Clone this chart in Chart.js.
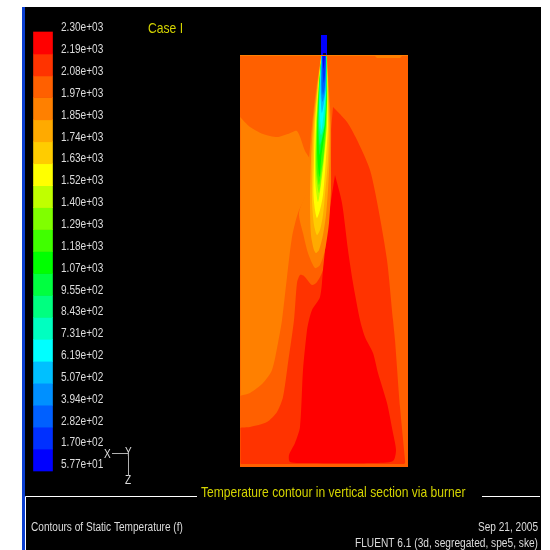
<!DOCTYPE html>
<html>
<head>
<meta charset="utf-8">
<title>Contours of Static Temperature</title>
<script src="https://cdn.jsdelivr.net/npm/chart.js@4"></script>
<style>
    html, body { margin: 0; padding: 0; background: #fff; overflow: hidden; }
    #frame { position: absolute; left: 22px; top: 7px; width: 516px; height: 543px; background: #000; border-left: 3px solid #0b3fd0; }
    #chart { position: absolute; left: 0; top: 0; }
</style>
</head>
<body>
<div id="frame"></div>
<canvas id="chart" width="550" height="550"></canvas>
<script>
// colour bar, bottom to top
const levels = [57.7, 169.8, 281.9, 394, 506.1, 618.2, 730.3, 842.4, 954.5, 1066.6, 1178.7, 1290.8, 1402.9, 1515, 1627.1, 1739.2, 1851.3, 1965, 2075.5, 2187.6, 2300];
const tickLabels = ['5.77e+01', '1.70e+02', '2.82e+02', '3.94e+02', '5.07e+02', '6.19e+02', '7.31e+02', '8.43e+02', '9.55e+02', '1.07e+03', '1.18e+03', '1.29e+03', '1.40e+03', '1.52e+03', '1.63e+03', '1.74e+03', '1.85e+03', '1.97e+03', '2.08e+03', '2.19e+03', '2.30e+03'];
const bandColors = ['#0000ff', '#0030ff', '#0060ff', '#0090ff', '#00c0ff', '#00ffff', '#00ffc0', '#00ff80', '#00ff40', '#00ff00', '#40ff00', '#80ff00', '#c0ff00', '#ffff00', '#ffcc00', '#ffaa00', '#ff8000', '#ff6000', '#ff3300', '#ff0000'];

// contour outlines, [across, depth below the roof]
const sectionT1970 = [[0, 0], [168, 0], [168, 412], [0, 412]];
const roofT1850 = [[0, 0], [168, 0], [168, 1], [0, 1]];
const roofPatchT1850 = [[135, 1], [162, 1], [160, 3], [137, 3]];
const burner = [[81, -20], [87, -20], [87, 0], [81, 0]];
const nozzleTip = [[83, -2], [86, -2], [86, 0], [83, 0]];
const leftT1850 = [[0, 62], [10, 72], [23, 79], [37, 82], [48, 79], [57, 76], [65, 96], [70, 105], [68, 135], [58, 158], [52, 182], [47, 222], [42, 265], [38, 288], [32, 315], [23, 328], [10, 338], [1, 340.5], [0.5, 341], [0.5, 338], [0.5, 66]];
const hotT2080 = [[93, 52], [107, 67], [118, 87], [130, 115], [138, 152], [147, 205], [153, 265], [155, 285], [160, 352], [165, 405], [165, 408], [164, 409], [160, 409], [5, 409], [1, 409], [0.5, 408], [0.5, 404], [0.5, 376], [0.5, 373], [3, 372.5], [10, 372], [27, 367], [37, 357], [43, 342], [48, 308], [54, 265], [57, 228], [60, 220], [64, 221], [72, 230], [77, 227], [83, 215], [87, 185], [90, 135], [91, 75]];
const coreT2190 = [[95, 120], [102, 148], [108, 195], [113, 228], [120, 265], [125, 282], [133, 298], [138, 318], [147, 348], [153, 378], [156, 395], [153, 406], [133, 408], [65, 408], [50, 407], [49, 400], [55, 388], [60, 372], [63, 315], [67, 275], [69, 265], [72, 255], [80, 242], [83, 215], [85, 195], [90, 152]];

// flame shells, outermost first
const jetT1850 = [[81, 1], [76, 35], [72, 70], [69, 105], [67, 135], [59, 158], [63, 178], [68, 198], [75, 213], [80, 210], [85, 195], [89, 168], [91, 135], [91, 105], [91, 70], [89, 35], [87, 1]];
const jetT1740 = [[81.2, 1], [76.8, 35], [73, 70], [71, 105], [70, 145], [71, 180], [74, 195], [76, 198], [79, 195], [83, 180], [86, 160], [88, 135], [89.5, 105], [90, 70], [88.5, 35], [86.8, 1]];
const jetT1630 = [[81.3, 1], [77.3, 35], [74, 70], [72.5, 105], [72, 145], [74, 170], [77, 180], [80, 175], [83, 160], [85, 140], [88, 105], [89, 70], [88, 35], [86.6, 1]];
const jetT1520 = [[81.4, 1], [77.8, 35], [75, 70], [74, 105], [73.5, 140], [75, 155], [77, 163], [80, 155], [83, 140], [85.5, 110], [88, 70], [87.8, 35], [86.5, 1]];
const jetT1400 = [[81.4, 1], [78.2, 35], [76, 70], [75, 105], [75.5, 130], [78, 147], [81, 130], [84, 105], [87, 70], [87.5, 35], [86.4, 1]];
const jetT1290 = [[81.5, 1], [78.5, 35], [76.5, 70], [75.8, 105], [76.3, 122], [79, 138], [81.5, 122], [83.5, 105], [85.5, 85], [86.5, 70], [87.2, 35], [86.4, 1]];
const jetT1180 = [[81.5, 1], [78.8, 35], [77, 70], [76.5, 105], [77, 118], [79, 130], [81, 118], [83, 105], [85, 85], [86, 70], [87, 35], [86.3, 1]];
const jetT1070 = [[81.5, 1], [79, 35], [77.5, 70], [77.3, 100], [79.5, 122], [81.5, 100], [83, 90], [85.5, 70], [86.8, 35], [86.3, 1]];
const jetT955 = [[81.5, 1], [79.2, 35], [78, 70], [79.5, 100], [82, 85], [85, 70], [86.6, 35], [86.2, 1]];
const jetT843 = [[81.5, 1], [79.4, 35], [78.5, 70], [80, 90], [84.5, 70], [86.4, 35], [86.2, 1]];
const jetT731 = [[81.5, 1], [79.6, 35], [79, 70], [81, 80], [84.2, 70], [86.2, 35], [86.2, 1]];
const jetT619 = [[81.5, 1], [80, 35], [79.8, 60], [81.5, 75], [83.5, 60], [86, 35], [86.2, 1]];
const jetT507 = [[81.6, 1], [80.5, 35], [81.8, 58], [84, 48], [85.6, 35], [86.1, 1]];
const jetT394 = [[81.8, 1], [81, 35], [82.5, 47], [85.3, 35], [86, 1]];
const jetT282 = [[82, 1], [81.8, 30], [83, 40], [85, 30], [86, 1]];
const jetT170 = [[82.3, 1], [83, 22], [83.8, 28], [85, 20], [85.8, 1]];
const jetT58 = [[82.5, 1], [83.5, 14], [85, 1]];

// painted back to front, third item is the curve tension
const layers = [
    [sectionT1970, '#ff6000', 0],
    [roofT1850, '#ff8000', 0],
    [roofPatchT1850, '#ff8000', 0],
    [leftT1850, '#ff8000', 0.25],
    [hotT2080, '#ff3300', 0.25],
    [coreT2190, '#ff0000', 0.25],
    [jetT1850, '#ff8000', 0.25],
    [jetT1740, '#ffaa00', 0.25],
    [jetT1630, '#ffcc00', 0.25],
    [jetT1520, '#ffff00', 0.25],
    [jetT1400, '#c0ff00', 0.25],
    [jetT1290, '#80ff00', 0.25],
    [jetT1180, '#40ff00', 0.25],
    [jetT1070, '#00ff00', 0.25],
    [jetT955, '#00ff40', 0.25],
    [jetT843, '#00ff80', 0.25],
    [jetT731, '#00ffc0', 0.25],
    [jetT619, '#00ffff', 0.25],
    [jetT507, '#00c0ff', 0.25],
    [jetT394, '#0090ff', 0.25],
    [jetT282, '#0060ff', 0.25],
    [jetT170, '#0030ff', 0.25],
    [jetT58, '#0000ff', 0.25],
    [burner, '#0000ff', 0],
    [nozzleTip, '#000040', 0]
];

const FONT = '"Liberation Sans", sans-serif';

// the original uses a condensed face, so squeeze the text horizontally
function squeezed(ctx, str, x, y, sx) {
    ctx.save();
    ctx.translate(x, y);
    ctx.scale(sx, 1);
    ctx.fillText(str, 0, 0);
    ctx.restore();
}

const textPlugin = {
    id: 'fluentText',
    afterDraw(chart) {
        const ctx = chart.ctx;
        ctx.save();
        ctx.textBaseline = 'middle';
        ctx.filter = 'blur(0.35px)';

        // colour bar labels, top label first
        ctx.fillStyle = '#dcdcdc';
        ctx.font = '12px ' + FONT;
        [...tickLabels].reverse().forEach((lab, i) => {
            squeezed(ctx, lab, 61, 28 + i * 21.85, 0.84);
        });

        ctx.fillStyle = '#d4d400';
        ctx.font = '15px ' + FONT;
        squeezed(ctx, 'Case I', 148, 29, 0.81);
        squeezed(ctx, 'Temperature contour in vertical section via burner', 201, 493, 0.805);

        ctx.fillStyle = '#dcdcdc';
        ctx.font = '12px ' + FONT;
        squeezed(ctx, 'Contours of Static Temperature (f)', 31, 528, 0.84);
        ctx.textAlign = 'right';
        squeezed(ctx, 'Sep 21, 2005', 538, 528, 0.84);
        squeezed(ctx, 'FLUENT 6.1 (3d, segregated, spe5, ske)', 538, 544, 0.847);
        ctx.textAlign = 'left';

        // axis triad
        squeezed(ctx, 'X', 104, 455, 0.84);
        squeezed(ctx, 'Y', 125, 453, 0.84);
        squeezed(ctx, 'Z', 125, 481, 0.84);
        ctx.filter = 'none';
        ctx.strokeStyle = '#b0b0b0';
        ctx.lineWidth = 1;
        ctx.beginPath();
        ctx.moveTo(112, 453.5);
        ctx.lineTo(128.5, 453.5);
        ctx.lineTo(128.5, 476);
        ctx.stroke();

        // frame around the caption
        ctx.strokeStyle = '#ffffff';
        ctx.beginPath();
        ctx.moveTo(25.5, 550);
        ctx.lineTo(25.5, 496.5);
        ctx.lineTo(197, 496.5);
        ctx.moveTo(482, 496.5);
        ctx.lineTo(540, 496.5);
        ctx.stroke();
        ctx.restore();
    }
};

const datasets = layers.map(([pts, color, tension], i) => ({
    type: 'scatter',
    data: pts.map(p => ({ x: p[0], y: p[1] })),
    showLine: true,
    fill: 'shape',
    backgroundColor: color,
    borderWidth: 0,
    pointRadius: 0,
    tension: tension,
    order: layers.length - i + 1
}));

datasets.push({
    type: 'bar',
    data: bandColors.map((c, i) => ({ x: -197, y: [levels[i], levels[i + 1]] })),
    backgroundColor: bandColors,
    borderWidth: 0,
    barThickness: 19,
    yAxisID: 'temp',
    order: 0
});

new Chart(document.getElementById('chart'), {
    type: 'scatter',
    data: { datasets },
    options: {
        responsive: false,
        animation: false,
        devicePixelRatio: 1,
        layout: { padding: 0 },
        plugins: {
            legend: { display: false },
            tooltip: { enabled: false }
        },
        scales: {
            x: { type: 'linear', display: false, min: -240, max: 310, offset: false },
            y: { type: 'linear', display: false, reverse: true, min: -55, max: 495 },
            temp: { type: 'linear', display: false, min: -345.8, max: 2463.4 }
        }
    },
    plugins: [textPlugin]
});
</script>
</body>
</html>
